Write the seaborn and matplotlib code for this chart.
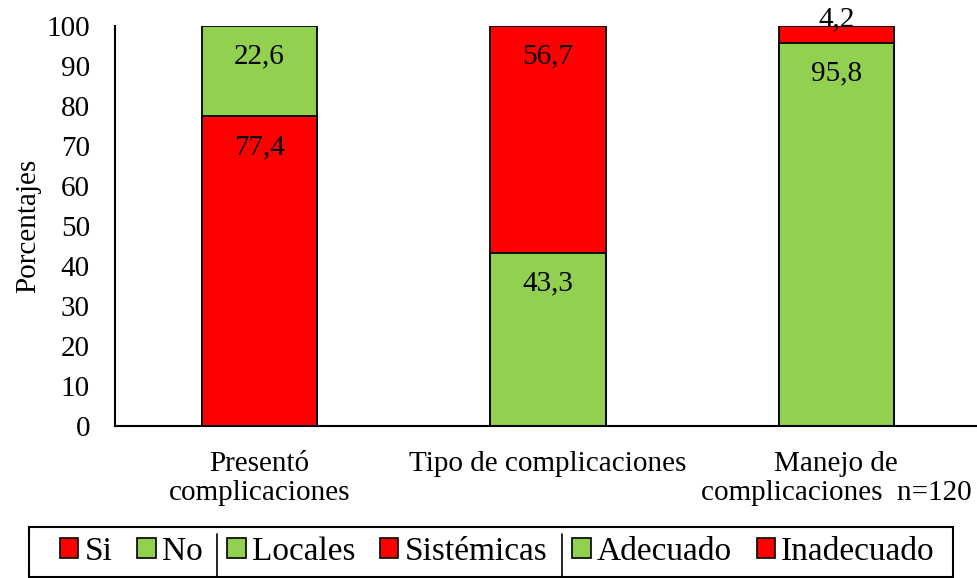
import numpy as np
import pandas as pd
import matplotlib
matplotlib.use("Agg")
import matplotlib.pyplot as plt
from matplotlib.patches import Patch, Rectangle
from matplotlib.lines import Line2D
import seaborn as sns

categories = ["Presentó\ncomplicaciones", "Tipo de complicaciones",
              "Manejo de\ncomplicaciones  n=120"]
bottom_vals = [77.4, 43.3, 95.8]
top_vals = [22.6, 56.7, 4.2]
bottom_names = ["Si", "Locales", "Adecuado"]
top_names = ["No", "Sistémicas", "Inadecuado"]

RED = "#FF0000"
GREEN = "#92D050"
bottom_colors = [RED, GREEN, GREEN]
top_colors = [GREEN, RED, RED]

sns.set_style("white")
plt.rcParams["font.family"] = ["Liberation Serif", "DejaVu Serif"]
plt.rcParams.update({"text.color": "black", "axes.labelcolor": "black",
                     "xtick.color": "black", "ytick.color": "black"})
FS = 21

df = pd.DataFrame({"cat": categories,
                   "bottom": bottom_vals,
                   "total": np.array(bottom_vals) + np.array(top_vals)})

fig = plt.figure(figsize=(9.77, 5.78), dpi=100)
ax = fig.add_axes([0.1177, 0.263, 0.886, 0.692])

# full-height bar in the top colour, then the bottom segment over it
sns.barplot(data=df, x="cat", y="total", hue="cat", palette=top_colors,
            width=0.4, edgecolor="black", linewidth=1.3, legend=False,
            saturation=1, ax=ax)
sns.barplot(data=df, x="cat", y="bottom", hue="cat", palette=bottom_colors,
            width=0.4, edgecolor="black", linewidth=1.3, legend=False,
            saturation=1, ax=ax)

ax.set_ylim(0, 100)
ax.set_xlim(-0.5, 2.5)
ax.set_yticks(range(0, 101, 10))
ax.tick_params(axis="both", length=0, labelsize=FS)
ax.tick_params(axis="y", pad=18)
ax.tick_params(axis="x", pad=18)
for lab in ax.get_xticklabels():
    lab.set_linespacing(1.15)
ax.set_xlabel("")
ax.set_ylabel("Porcentajes", fontsize=FS, labelpad=4)
sns.despine(ax=ax)
for s in ["left", "bottom"]:
    ax.spines[s].set_color("black")
    ax.spines[s].set_linewidth(1.5)
ax.spines["bottom"].set_clip_on(False)


def fmt(v):
    return f"{v:.1f}".replace(".", ",")


for i, (b, t) in enumerate(zip(bottom_vals, top_vals)):
    ax.annotate(fmt(b), (i, b), xytext=(0, -22), textcoords="offset points",
                ha="center", va="center", fontsize=FS)
    if t >= 10:
        ax.annotate(fmt(t), (i, b + t), xytext=(0, -22), textcoords="offset points",
                    ha="center", va="center", fontsize=FS)
    else:
        ax.annotate(fmt(t), (i, b + t), xytext=(0, 5), textcoords="offset points",
                    ha="center", va="center", fontsize=FS, annotation_clip=False)

# legend
handles, labels = [], []
for bn, tn, bc, tc in zip(bottom_names, top_names, bottom_colors, top_colors):
    handles += [Patch(facecolor=bc, edgecolor="black", linewidth=1.2),
                Patch(facecolor=tc, edgecolor="black", linewidth=1.2)]
    labels += [bn, tn]

leg = fig.legend(handles, labels, loc="center", ncol=6,
                 bbox_to_anchor=(0.509, 0.045), fontsize=24,
                 frameon=False, handlelength=0.55, handleheight=0.55,
                 handletextpad=0.18, columnspacing=0.75, borderpad=0,
                 borderaxespad=0)

W, H = fig.bbox.width, fig.bbox.height
fig.add_artist(Rectangle((29 / W, 1 - 577 / H), 924 / W, 50 / H,
                         transform=fig.transFigure, fill=False,
                         edgecolor="black", lw=1.5))

fig.canvas.draw()
for k in (2, 4):
    hx = leg.legend_handles[k].get_window_extent().x0
    x = (hx - 10) / W
    fig.add_artist(Line2D([x, x], [1 - 577 / H, 1 - 534 / H],
                          transform=fig.transFigure, color="black", lw=1.2))

fig.savefig("out.png", dpi=100)
